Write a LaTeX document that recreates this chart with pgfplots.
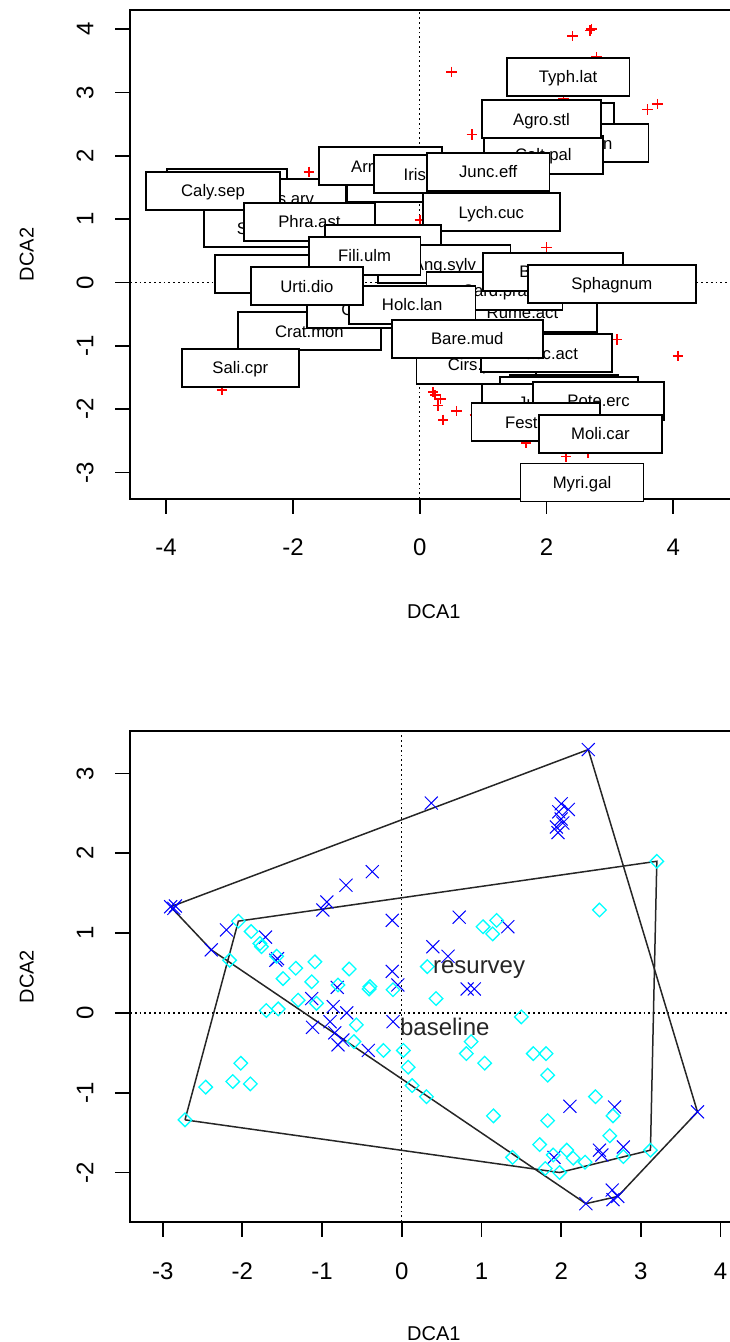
\documentclass[border=0pt]{standalone}
\usepackage{pgfplots}
\usepackage{pgfplotstable}
\pgfplotsset{compat=1.18}
\usepackage{fontspec}
\setmainfont{Liberation Sans}

\definecolor{Rred}{RGB}{255,0,0}
\definecolor{Rblue}{RGB}{0,0,255}
\definecolor{Rcyan}{RGB}{0,255,255}

% DCA species scores that carry no label
\pgfplotstableread{
x y
-1.75 1.75
0.00 0.99
2.41 3.89
2.71 4.00
2.69 3.98
2.79 3.56
0.50 3.33
2.27 2.90
3.59 2.73
3.75 2.82
0.82 2.34
2.00 0.55
3.11 -0.90
4.07 -1.16
0.21 -1.73
0.24 -1.78
0.33 -1.84
0.29 -1.94
0.37 -2.17
0.58 -2.03
0.87 -2.09
1.68 -2.54
2.31 -2.75
2.65 -2.69
-3.12 -1.70
}\spscores

% labelled species, in the order the boxes are drawn
\pgfplotstableread{
x y label
-3.04 1.49 Gali.pal
-2.12 1.33 Cirs.arv
-2.41 0.86 Scut.gal
-3.26 1.45 Caly.sep
-1.74 0.96 Phra.ast
-0.20 1.57 Lyth.sal
-0.62 1.84 Arrh.ela
0.17 1.71 Iris.pse
2.04 2.54 Ranu.fla
2.52 2.20 Cala.can
1.95 2.02 Calt.pal
1.92 2.58 Agro.stl
1.08 1.75 Junc.eff
2.34 3.25 Typh.lat
1.13 1.11 Lych.cuc
-0.58 0.61 Lysi.vul
-2.07 0.13 Myos.sco
0.39 0.29 Ang.sylv
-0.87 0.42 Fili.ulm
-1.74 -0.77 Crat.mon
-0.74 -0.42 Care.nig
1.62 -0.48 Rume.act
1.18 -0.13 Card.pra
2.10 0.17 Betu.pub
3.03 -0.02 Sphagnum
-0.12 -0.35 Holc.lan
-1.78 -0.06 Urti.dio
-2.83 -1.35 Sali.cpr
0.89 -1.30 Cirs.pal
2.00 -1.12 Vacc.act
0.75 -0.89 Bare.mud
2.27 -1.76 Gali.uli
2.35 -1.79 Succ.pra
2.08 -1.90 Junc.acu
2.82 -1.87 Pote.erc
1.83 -2.21 Fest.rub
2.85 -2.39 Moli.car
2.56 -3.16 Myri.gal
}\splabels

% site scores, resurvey
\pgfplotstableread{
x y
-2.90 1.33
-2.86 1.31
-2.84 1.34
-0.37 1.77
-0.70 1.60
-0.94 1.39
-0.99 1.29
-0.12 1.16
0.37 2.63
-2.20 1.04
-2.39 0.79
-1.71 0.95
-1.58 0.66
-1.56 0.68
-0.12 0.52
-0.05 0.35
-0.81 0.32
2.34 3.30
2.00 2.62
2.09 2.55
1.97 2.52
2.00 2.43
2.02 2.38
1.94 2.33
1.96 2.26
0.72 1.20
1.33 1.08
0.39 0.83
0.58 0.71
0.82 0.30
0.91 0.30
-1.13 0.18
-0.86 0.08
-0.69 0.00
-0.90 -0.11
-1.12 -0.18
-0.84 -0.25
-0.74 -0.34
-0.80 -0.40
-0.42 -0.47
-0.11 -0.11
2.11 -1.17
2.67 -1.18
3.71 -1.24
2.48 -1.72
2.51 -1.78
2.78 -1.68
1.91 -1.81
2.31 -2.39
2.64 -2.22
2.65 -2.34
2.71 -2.30
}\resurvey

% site scores, baseline
\pgfplotstableread{
x y
-2.05 1.15
-1.89 1.02
-1.76 0.83
-1.78 0.87
-2.16 0.66
-1.57 0.71
-1.49 0.43
-1.33 0.56
-1.09 0.64
-0.66 0.55
-1.13 0.39
-0.40 0.33
-0.80 0.35
0.32 0.58
3.20 1.90
2.48 1.29
1.02 1.08
1.19 1.16
1.14 0.99
-2.72 -1.34
-2.46 -0.93
-2.02 -0.63
-2.12 -0.86
-1.90 -0.89
-1.70 0.03
-1.55 0.05
-1.30 0.16
-1.07 0.12
-0.57 -0.15
-0.60 -0.36
-0.23 -0.47
0.02 -0.47
0.08 -0.68
0.13 -0.91
0.31 -1.05
-0.41 0.30
-0.11 0.29
0.43 0.18
1.50 -0.05
0.87 -0.36
0.81 -0.51
1.04 -0.63
1.65 -0.51
1.81 -0.51
1.83 -0.78
1.15 -1.29
1.83 -1.35
2.43 -1.05
2.65 -1.29
2.61 -1.54
1.39 -1.81
1.73 -1.65
1.90 -1.78
2.07 -1.72
1.80 -1.95
1.98 -2.00
2.15 -1.82
2.30 -1.87
2.78 -1.80
3.12 -1.72
}\baseline

% convex hulls of the two surveys
\pgfplotstableread{
x y
-2.90 1.33
2.34 3.30
3.71 -1.24
2.71 -2.30
2.31 -2.39
-2.39 0.79
-2.90 1.33
}\hullres

\pgfplotstableread{
x y
-2.72 -1.34
-2.05 1.15
3.20 1.90
3.12 -1.72
1.98 -2.00
-2.72 -1.34
}\hullbase

% hull centres
\pgfplotstableread{
x y label
0.97 0.54 resurvey
0.54 -0.18 baseline
}\grouplabels

\pgfplotsset{
  Rplot/.style={
    axis line style={line width=0.9pt},
    tick style={line width=0.9pt, black},
    tick align=outside,
    major tick length=7.5pt,
    xtick pos=left, ytick pos=left,
    ticklabel style={font=\fontsize{12}{14}\selectfont},
    xticklabel style={anchor=base},
    yticklabel style={rotate=90, anchor=base},
    xticklabel shift=21pt,
    yticklabel shift=10.75pt,
    label style={font=\fontsize{12}{14}\selectfont},
    every axis y label/.style={at={(axis description cs:-0.1587,0.5)}, rotate=90, anchor=base},
    clip=false,
  },
  zeroline/.style={black, line width=0.6pt, dash pattern=on 0.9pt off 1.5pt},
  redplus/.style={only marks, color=Rred, mark=+, mark size=2.6pt,
    mark options={draw=Rred, line width=0.8pt, solid}},
}

\begin{document}
\begin{tikzpicture}
% species ordination with boxed labels
\begin{axis}[Rplot,
  at={(65pt,421.5pt)}, anchor=south west,
  x=31.7pt, y=31.65pt,
  xmin=-4.57, xmax=5.014, ymin=-3.42, ymax=4.31,
  xtick={-4,-2,0,2,4}, xticklabels={-4,-2,0,2,4},
  ytick={-3,-2,-1,0,1,2,3,4}, yticklabels={-3,-2,-1,0,1,2,3,4},
  xlabel={DCA1}, ylabel={DCA2},
  every axis x label/.style={at={(axis description cs:0.5,-0.2442)}, anchor=base},
]
\addplot[zeroline] coordinates {(-4.57,0) (5.014,0)};
\addplot[zeroline] coordinates {(0,-3.42) (0,4.31)};
\addplot[redplus] table {\spscores};
\addplot[redplus] table[x=x, y=y] {\splabels};
\addplot[only marks, mark=none, point meta=explicit symbolic,
  nodes near coords={\makebox[2\width]{\pgfplotspointmeta}},
  nodes near coords style={draw=black, line width=0.9pt, fill=white, text=black,
    anchor=center, inner xsep=1.5pt, inner ysep=0pt, minimum height=19pt,
    text height=6pt, text depth=0pt, font=\fontsize{8.35}{10}\selectfont}]
  table[x=x, y=y, meta=label] {\splabels};
\end{axis}

% site ordination, baseline and resurvey
\begin{axis}[Rplot,
  at={(65pt,60pt)}, anchor=south west,
  x=39.85pt, y=39.9pt,
  xmin=-3.41, xmax=4.214, ymin=-2.62, ymax=3.53,
  xtick={-3,-2,-1,0,1,2,3,4}, xticklabels={-3,-2,-1,0,1,2,3,4},
  ytick={-2,-1,0,1,2,3}, yticklabels={-2,-1,0,1,2,3},
  xlabel={DCA1}, ylabel={DCA2},
  every axis x label/.style={at={(axis description cs:0.5,-0.2414)}, anchor=base},
]
\addplot[zeroline] coordinates {(-3.41,0) (4.214,0)};
\addplot[zeroline] coordinates {(0,-2.62) (0,3.53)};
\addplot[only marks, color=Rblue, mark=x, mark size=4.6pt, mark options={draw=Rblue, line width=0.5pt}] table {\resurvey};
\addplot[only marks, color=Rcyan, mark=square, mark size=2.4pt, mark options={draw=Rcyan, rotate=45, line width=0.65pt}] table {\baseline};
\addplot[black!85, line width=0.75pt, mark=none] table {\hullres};
\addplot[black!85, line width=0.75pt, mark=none] table {\hullbase};
\addplot[only marks, mark=none, point meta=explicit symbolic,
  nodes near coords={\pgfplotspointmeta},
  nodes near coords style={anchor=center, text=black!85, font=\fontsize{12}{14}\selectfont}]
  table[x=x, y=y, meta=label] {\grouplabels};
\end{axis}

\pgfresetboundingbox
\path[use as bounding box] (0,0) rectangle (364.5pt,671pt);
\end{tikzpicture}
\end{document}
